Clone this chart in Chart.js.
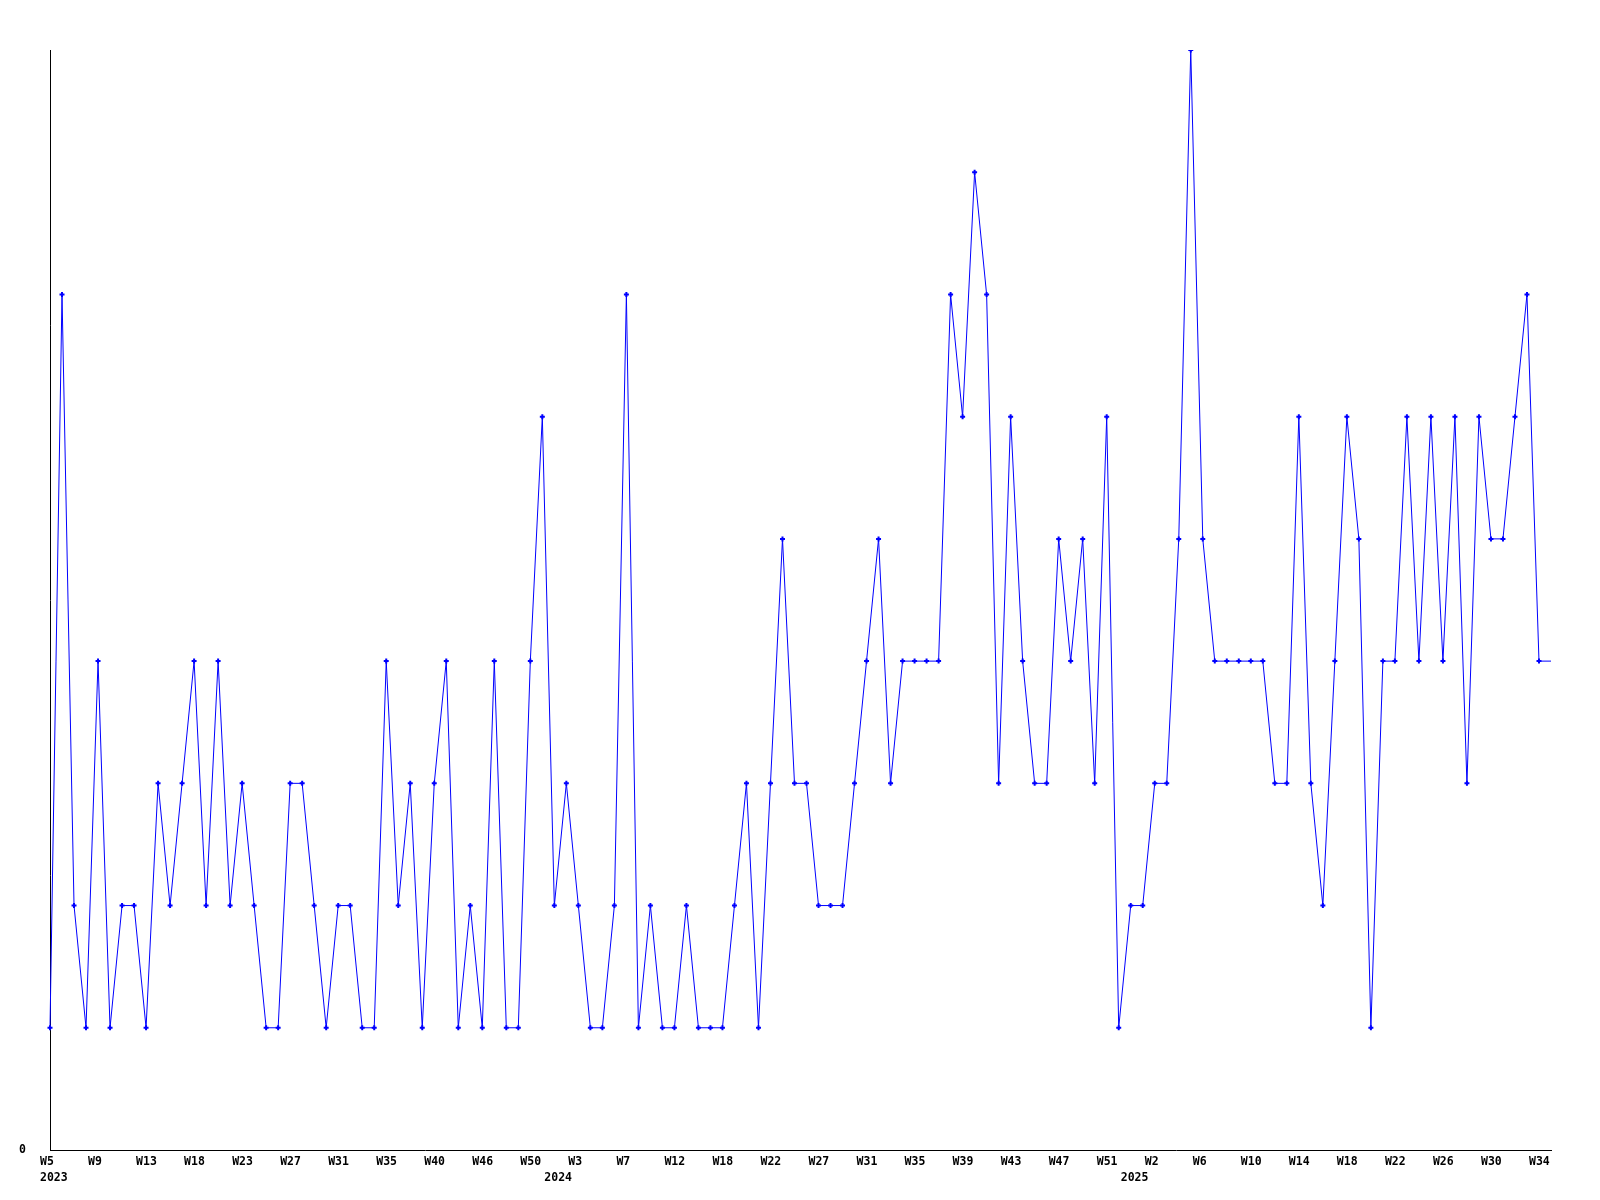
<!DOCTYPE html>
<html>
<head>
<meta charset="utf-8">
<script src="https://cdn.jsdelivr.net/npm/chart.js@4/dist/chart.umd.min.js"></script>
<style>
  html, body { margin: 0; padding: 0; background: #ffffff; }
  #wrap { width: 1600px; height: 1200px; }
</style>
</head>
<body>
<div id="wrap"><canvas id="c" width="1600" height="1200"></canvas></div>
<script>
// weekly values, 2023 W5 .. 2025 W34 (+ current partial week)
const values = [
  1, 7, 2, 1, 4, 1, 2, 2, 1, 3, 2, 3, 4, 2, 4, 2, 3, 2, 1, 1,
  3, 3, 2, 1, 2, 2, 1, 1, 4, 2, 3, 1, 3, 4, 1, 2, 1, 4, 1, 1,
  4, 6, 2, 3, 2, 1, 1, 2, 7, 1, 2, 1, 1, 2, 1, 1, 1, 2, 3, 1,
  3, 5, 3, 3, 2, 2, 2, 3, 4, 5, 3, 4, 4, 4, 4, 7, 6, 8, 7, 3,
  6, 4, 3, 3, 5, 4, 5, 3, 6, 1, 2, 2, 3, 3, 5, 9, 5, 4, 4, 4,
  4, 4, 3, 3, 6, 3, 2, 4, 6, 5, 1, 4, 4, 6, 4, 6, 4, 6, 3, 6,
  5, 5, 6, 7, 4, 4
];
// x-axis tick labels, one every 4th point
const tickLabels = [
  'W5', 'W9', 'W13', 'W18', 'W23', 'W27', 'W31', 'W35', 'W40', 'W46', 'W50',
  'W3', 'W7', 'W12', 'W18', 'W22', 'W27', 'W31', 'W35', 'W39', 'W43', 'W47', 'W51',
  'W2', 'W6', 'W10', 'W14', 'W18', 'W22', 'W26', 'W30', 'W34'
];
const years = ['2023', '2024', '2025'];
const yearAt = [0, 42, 90];
const tickEvery = 4;

const categories = values.map((_, i) => (i % tickEvery === 0 ? (tickLabels[i / tickEvery] || '') : ''));

const FONT = { family: '"DejaVu Sans Mono", "Liberation Mono", monospace', size: 11.5, weight: 'bold', lineHeight: 1.4 };

new Chart(document.getElementById('c'), {
  type: 'line',
  data: {
    labels: categories,
    datasets: [{
      data: values,
      borderColor: '#0000ff',
      backgroundColor: '#0000ff',
      borderWidth: 1,
      tension: 0,
      fill: false,
      pointStyle: 'cross',
      pointRadius: ctx => (ctx.dataIndex === values.length - 1 ? 0 : 2.5),
      pointBorderWidth: 2,
      pointBorderColor: '#0000ff',
      pointHoverRadius: 0
    }]
  },
  options: {
    responsive: false,
    animation: false,
    events: [],
    layout: { padding: { left: 0, right: 49, top: 50, bottom: 0 } },
    plugins: { legend: { display: false }, tooltip: { enabled: false }, title: { display: false } },
    scales: {
      x: {
        type: 'category',
        offset: false,
        grid: { display: false, drawTicks: false },
        border: { display: true, color: '#000000', width: 1 },
        afterFit: s => { s.height = 50; },
        ticks: {
          autoSkip: false,
          maxRotation: 0,
          minRotation: 0,
          align: 'start',
          labelOffset: -10,
          padding: 4,
          color: '#000000',
          font: FONT,
          callback: function (v, i) {
            const top = i % tickEvery === 0 ? (tickLabels[i / tickEvery] || '') : '';
            const y = yearAt.indexOf(i);
            if (y >= 0) return [top, years[y]];
            return top;
          }
        }
      },
      y: {
        min: 0,
        max: 9,
        grid: { display: false, drawTicks: false },
        border: { display: true, color: '#000000', width: 1 },
        afterFit: s => { s.width = 50; },
        ticks: {
          stepSize: 9,
          padding: 24,
          color: '#000000',
          font: FONT,
          callback: v => (v === 0 ? '0' : null)
        }
      }
    }
  }
});
</script>
</body>
</html>
